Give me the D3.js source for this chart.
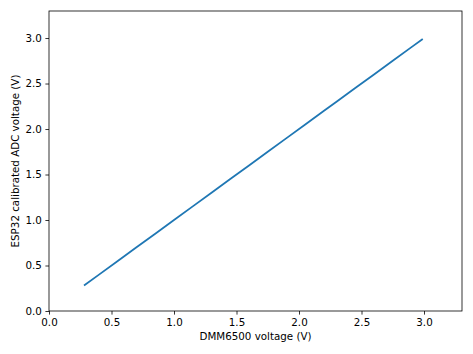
<!DOCTYPE html>
<html>
<head>
<meta charset="utf-8">
<script src="https://cdn.jsdelivr.net/npm/d3@7"></script>
<style>
  body { margin: 0; background: #fff; }
  svg { display: block; }
  text { font-family: "DejaVu Sans", sans-serif; fill: #000; }
</style>
</head>
<body>
<script>
const dmmVolts = [0.28, 0.40, 0.55, 0.70, 0.85, 1.00, 1.15, 1.30, 1.45, 1.60, 1.75, 1.90, 2.05, 2.20, 2.30, 2.45, 2.60, 2.75, 2.90, 2.99]
const espVolts = [0.28, 0.40, 0.55, 0.70, 0.85, 1.00, 1.15, 1.30, 1.45, 1.60, 1.75, 1.90, 2.05, 2.20, 2.30, 2.45, 2.60, 2.75, 2.90, 2.99]
const xTicks = [0, 0.5, 1, 1.5, 2, 2.5, 3]
const yTicks = [0, 0.5, 1, 1.5, 2, 2.5, 3]

const W = 473, H = 354
const m = {left: 49, top: 11, right: 462, bottom: 311}

const svg = d3.select("body").append("svg")
  .attr("width", W).attr("height", H)

const x = d3.scaleLinear().domain([0, 3.304]).range([m.left, m.right])
const y = d3.scaleLinear().domain([0, 3.297]).range([m.bottom, m.top])

const pts = dmmVolts.map((d, i) => [d, espVolts[i]])

svg.append("path")
  .datum(pts)
  .attr("fill", "none")
  .attr("stroke", "#1f77b4")
  .attr("stroke-width", 1.8)
  .attr("stroke-linecap", "butt")
  .attr("d", d3.line().x(d => x(d[0])).y(d => y(d[1])))

// axes
const xAxis = svg.append("g")
  .attr("transform", `translate(0,${m.bottom})`)
  .call(d3.axisBottom(x).tickValues(xTicks).tickFormat(d3.format(".1f")).tickSizeInner(3.6).tickSizeOuter(0).tickPadding(3.6))
const yAxis = svg.append("g")
  .attr("transform", `translate(${m.left},0)`)
  .call(d3.axisLeft(y).tickValues(yTicks).tickFormat(d3.format(".1f")).tickSizeInner(3.6).tickSizeOuter(0).tickPadding(3.6))

for (const g of [xAxis, yAxis]) {
  g.select(".domain").remove()
  g.selectAll(".tick line").attr("stroke", "#000").attr("stroke-width", 0.8)
  g.selectAll(".tick text").attr("font-size", 10.3).attr("font-family", "DejaVu Sans")
}

// frame
svg.append("rect")
  .attr("x", m.left).attr("y", m.top)
  .attr("width", m.right - m.left).attr("height", m.bottom - m.top)
  .attr("fill", "none").attr("stroke", "#000").attr("stroke-width", 0.8)

svg.append("text")
  .attr("x", (m.left + m.right) / 2).attr("y", 339.5)
  .attr("text-anchor", "middle").attr("font-size", 10.3)
  .text("DMM6500 voltage (V)")

svg.append("text")
  .attr("transform", `translate(18.5,${(m.top + m.bottom) / 2}) rotate(-90)`)
  .attr("text-anchor", "middle").attr("font-size", 10.3)
  .text("ESP32 calibrated ADC voltage (V)")
</script>
</body>
</html>
